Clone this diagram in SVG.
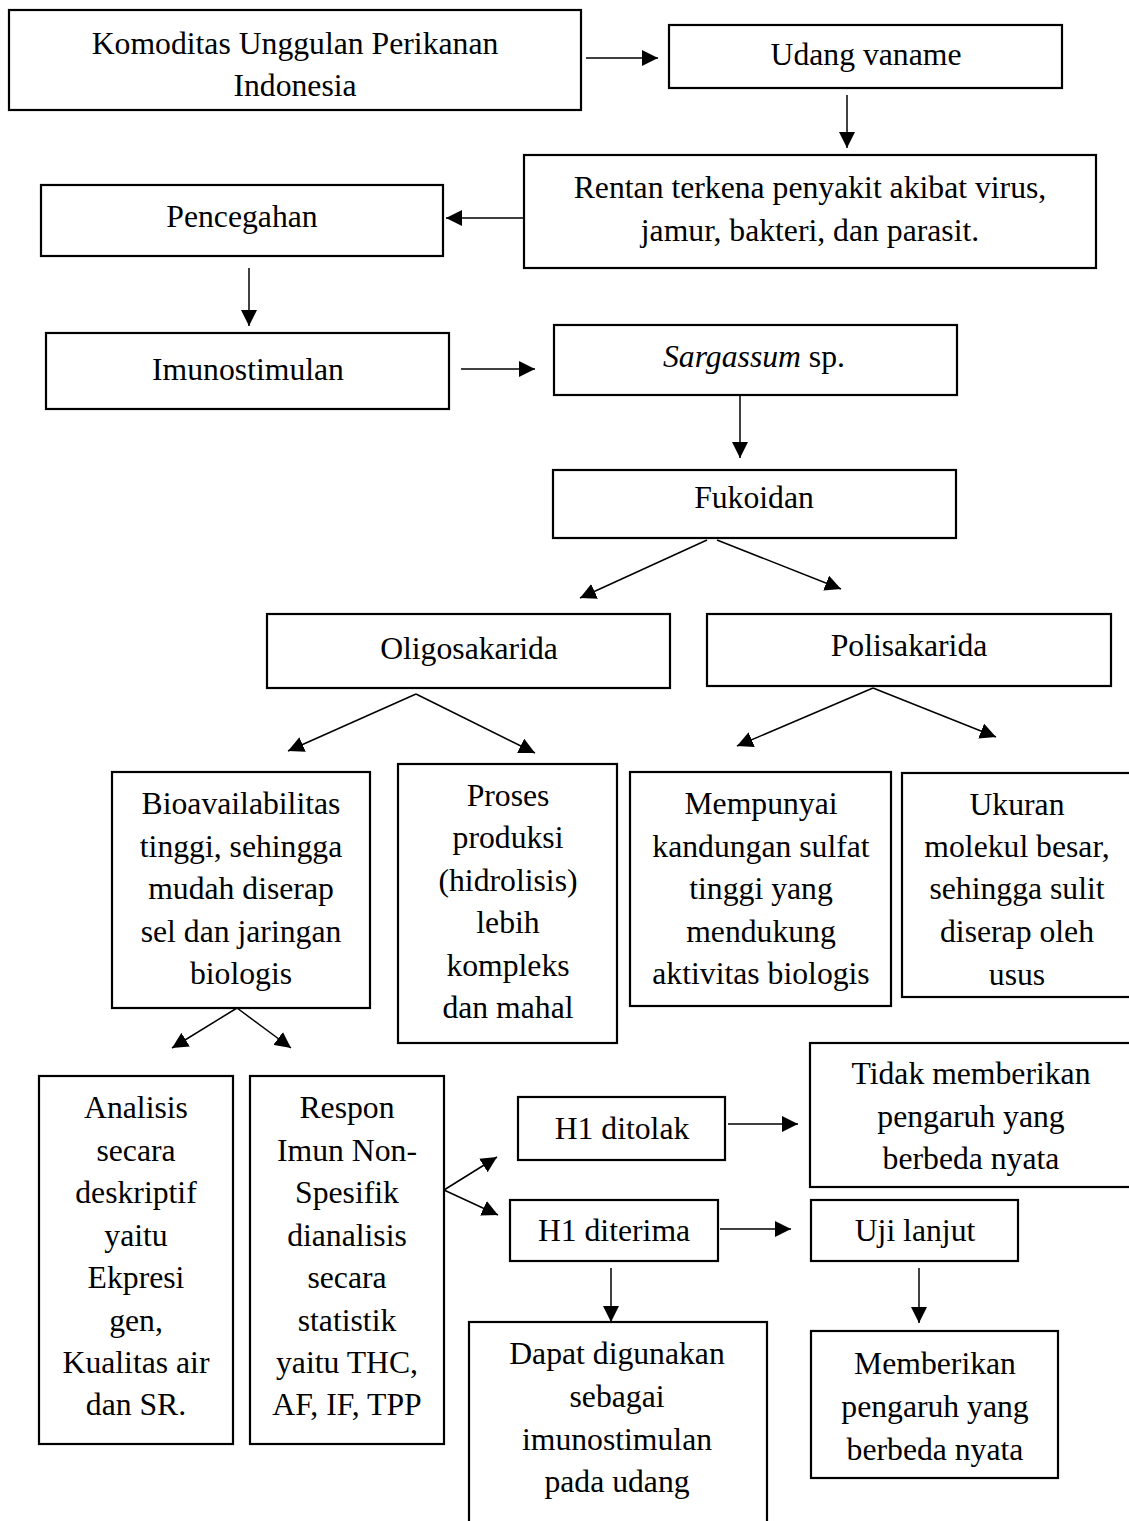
<svg xmlns="http://www.w3.org/2000/svg" width="1129" height="1521" viewBox="0 0 1129 1521">
<style>
.box{fill:#fff;stroke:#000;stroke-width:2.2}
.t{font-family:"Liberation Serif","Times New Roman",serif;font-size:31.7px;fill:#000;text-anchor:middle}
.c{stroke:#000;stroke-width:1.5;fill:none;marker-end:url(#ah)}
</style>
<defs>
<marker id="ah" markerUnits="userSpaceOnUse" markerWidth="18" markerHeight="16" refX="16" refY="8" orient="auto">
<path d="M0,0 L16,8 L0,16 Z" fill="#000"/>
</marker>
</defs>
<rect width="1129" height="1521" fill="#fff"/>
<g id="connectors">
<line class="c" x1="586" y1="58" x2="658" y2="58"/>
<line class="c" x1="847" y1="95" x2="847" y2="148"/>
<line class="c" x1="523" y1="218" x2="446" y2="218"/>
<line class="c" x1="249" y1="268" x2="249" y2="326"/>
<line class="c" x1="461" y1="369" x2="535" y2="369"/>
<line class="c" x1="740" y1="396" x2="740" y2="458"/>
<line class="c" x1="707" y1="540" x2="580" y2="598"/>
<line class="c" x1="717" y1="540" x2="841" y2="589"/>
<line class="c" x1="416" y1="694" x2="288" y2="751"/>
<line class="c" x1="416" y1="694" x2="535" y2="753"/>
<line class="c" x1="873" y1="688" x2="737" y2="746"/>
<line class="c" x1="873" y1="688" x2="996" y2="737"/>
<line class="c" x1="237" y1="1008" x2="172" y2="1048"/>
<line class="c" x1="237" y1="1008" x2="291" y2="1048"/>
<line class="c" x1="444" y1="1190" x2="497" y2="1157"/>
<line class="c" x1="444" y1="1190" x2="498" y2="1215"/>
<line class="c" x1="728" y1="1124" x2="798" y2="1124"/>
<line class="c" x1="720" y1="1229" x2="791" y2="1229"/>
<line class="c" x1="611" y1="1268" x2="611" y2="1322"/>
<line class="c" x1="919" y1="1268" x2="919" y2="1323"/>
</g>
<g id="n1"><rect class="box" x="9" y="10" width="572" height="100"/><text class="t" x="295" y="54">Komoditas Unggulan Perikanan</text><text class="t" x="295" y="96">Indonesia</text></g>
<g id="n2"><rect class="box" x="669" y="25" width="393" height="63"/><text class="t" x="866" y="65">Udang vaname</text></g>
<g id="n3"><rect class="box" x="524" y="155" width="572" height="113"/><text class="t" x="810" y="198">Rentan terkena penyakit akibat virus,</text><text class="t" x="810" y="241">jamur, bakteri, dan parasit.</text></g>
<g id="n4"><rect class="box" x="41" y="185" width="402" height="71"/><text class="t" x="242" y="227">Pencegahan</text></g>
<g id="n5"><rect class="box" x="46" y="333" width="403" height="76"/><text class="t" x="248" y="380">Imunostimulan</text></g>
<g id="n6"><rect class="box" x="554" y="325" width="403" height="70"/><text class="t" x="754" y="367"><tspan font-style="italic">Sargassum</tspan> sp.</text></g>
<g id="n7"><rect class="box" x="553" y="470" width="403" height="68"/><text class="t" x="754" y="508">Fukoidan</text></g>
<g id="n8"><rect class="box" x="267" y="614" width="403" height="74"/><text class="t" x="469" y="659">Oligosakarida</text></g>
<g id="n9"><rect class="box" x="707" y="614" width="404" height="72"/><text class="t" x="909" y="656">Polisakarida</text></g>
<g id="n10"><rect class="box" x="112" y="772" width="258" height="236"/><text class="t" x="241" y="814">Bioavailabilitas</text><text class="t" x="241" y="857">tinggi, sehingga</text><text class="t" x="241" y="899">mudah diserap</text><text class="t" x="241" y="942">sel dan jaringan</text><text class="t" x="241" y="984">biologis</text></g>
<g id="n11"><rect class="box" x="398" y="764" width="219" height="279"/><text class="t" x="508" y="806">Proses</text><text class="t" x="508" y="848">produksi</text><text class="t" x="508" y="891">(hidrolisis)</text><text class="t" x="508" y="933">lebih</text><text class="t" x="508" y="976">kompleks</text><text class="t" x="508" y="1018">dan mahal</text></g>
<g id="n12"><rect class="box" x="630" y="772" width="261" height="234"/><text class="t" x="761" y="814">Mempunyai</text><text class="t" x="761" y="857">kandungan sulfat</text><text class="t" x="761" y="899">tinggi yang</text><text class="t" x="761" y="942">mendukung</text><text class="t" x="761" y="984">aktivitas biologis</text></g>
<g id="n13"><rect class="box" x="902" y="773" width="232" height="224"/><text class="t" x="1017" y="815">Ukuran</text><text class="t" x="1017" y="857">molekul besar,</text><text class="t" x="1017" y="899">sehingga sulit</text><text class="t" x="1017" y="942">diserap oleh</text><text class="t" x="1017" y="985">usus</text></g>
<g id="n14"><rect class="box" x="39" y="1076" width="194" height="368"/><text class="t" x="136" y="1118">Analisis</text><text class="t" x="136" y="1161">secara</text><text class="t" x="136" y="1203">deskriptif</text><text class="t" x="136" y="1246">yaitu</text><text class="t" x="136" y="1288">Ekpresi</text><text class="t" x="136" y="1331">gen,</text><text class="t" x="136" y="1373">Kualitas air</text><text class="t" x="136" y="1415">dan SR.</text></g>
<g id="n15"><rect class="box" x="250" y="1076" width="194" height="368"/><text class="t" x="347" y="1118">Respon</text><text class="t" x="347" y="1161">Imun Non-</text><text class="t" x="347" y="1203">Spesifik</text><text class="t" x="347" y="1246">dianalisis</text><text class="t" x="347" y="1288">secara</text><text class="t" x="347" y="1331">statistik</text><text class="t" x="347" y="1373">yaitu THC,</text><text class="t" x="347" y="1415">AF, IF, TPP</text></g>
<g id="n16"><rect class="box" x="518" y="1097" width="207" height="63"/><text class="t" x="622" y="1139">H1 ditolak</text></g>
<g id="n17"><rect class="box" x="810" y="1043" width="324" height="144"/><text class="t" x="971" y="1084">Tidak memberikan</text><text class="t" x="971" y="1127">pengaruh yang</text><text class="t" x="971" y="1169">berbeda nyata</text></g>
<g id="n18"><rect class="box" x="510" y="1200" width="208" height="61"/><text class="t" x="614" y="1241">H1 diterima</text></g>
<g id="n19"><rect class="box" x="811" y="1200" width="207" height="61"/><text class="t" x="915" y="1241">Uji lanjut</text></g>
<g id="n20"><rect class="box" x="469" y="1322" width="298" height="210"/><text class="t" x="617" y="1364">Dapat digunakan</text><text class="t" x="617" y="1407">sebagai</text><text class="t" x="617" y="1450">imunostimulan</text><text class="t" x="617" y="1492">pada udang</text></g>
<g id="n21"><rect class="box" x="811" y="1331" width="247" height="147"/><text class="t" x="935" y="1374">Memberikan</text><text class="t" x="935" y="1417">pengaruh yang</text><text class="t" x="935" y="1460">berbeda nyata</text></g>
</svg>
